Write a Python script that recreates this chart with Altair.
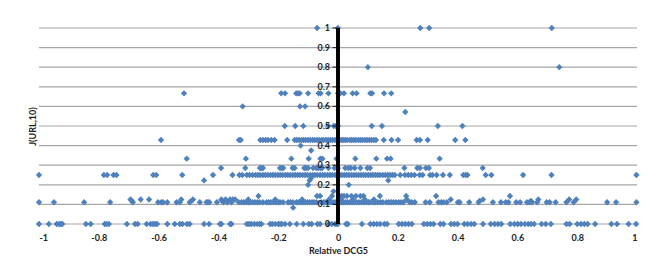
import altair as alt
import pandas as pd

# x values (Relative DCG5) for each J(URL,10) level
x_y100 = [-0.07, 0.0, 0.275, 0.305, 0.715]
x_y080 = [0.10, 0.74]
x_y067 = [-0.515, -0.19, -0.177, -0.14, -0.134, -0.128, -0.10, -0.065, -0.058, -0.032,
          0.0, 0.008, 0.02, 0.049, 0.062, 0.108, 0.114, 0.154, 0.178]
x_y060 = [-0.319, -0.127, -0.11]
x_y057 = [0.225]
x_y050 = [-0.178, -0.143, -0.116, -0.032, -0.014, -0.007, 0.0, 0.113, 0.147, 0.334, 0.416]
x_y043 = [-0.592, -0.331, -0.325, -0.26, -0.251, -0.242, -0.234, -0.223, -0.212, -0.17,
          -0.145, -0.138, -0.13, -0.122, -0.115, -0.108, -0.1, -0.093, -0.085, -0.078,
          -0.07, -0.063, -0.055, -0.048, -0.04, -0.033, -0.025, -0.018, -0.01, -0.004,
          0.0, 0.005, 0.011, 0.017, 0.024, 0.031, 0.04, 0.046, 0.053, 0.06, 0.068, 0.075,
          0.082, 0.09, 0.097, 0.105, 0.112, 0.12, 0.127, 0.153, 0.179, 0.201, 0.263, 0.274,
          0.3, 0.392, 0.426]
x_y040 = [-0.125]
x_y038 = [-0.09]
x_y033 = [-0.506, -0.308, -0.156, -0.098, -0.059, -0.052, -0.005, 0.058, 0.128, 0.164,
          0.176, 0.34]
x_y029 = [-0.391, -0.31, -0.261, -0.256, -0.251, -0.194, -0.188, -0.183, -0.152, -0.145,
          -0.113, -0.107, -0.1, -0.083, -0.072, -0.066, -0.059, -0.053, -0.032, -0.012,
          0.0, 0.024, 0.035, 0.043, 0.056, 0.075, 0.098, 0.107, 0.222, 0.265, 0.274,
          0.294, 0.304, 0.484]
x_y025 = [-1.0, -0.783, -0.772, -0.751, -0.741, -0.618, -0.608, -0.521, -0.418, -0.353,
          -0.33, -0.32, -0.305, -0.296, -0.286, -0.276, -0.268, -0.26, -0.251, -0.243,
          -0.235, -0.226, -0.218, -0.21, -0.201, -0.193, -0.185, -0.176, -0.168, -0.16,
          -0.151, -0.143, -0.135, -0.127, -0.118, -0.11, -0.102, -0.093, -0.085, -0.077,
          -0.069, -0.06, -0.052, -0.044, -0.035, -0.027, -0.019, -0.01, -0.003, 0.0,
          0.006, 0.013, 0.021, 0.029, 0.037, 0.045, 0.053, 0.061, 0.069, 0.077, 0.085,
          0.093, 0.101, 0.109, 0.117, 0.125, 0.133, 0.141, 0.15, 0.158, 0.166, 0.174,
          0.182, 0.19, 0.208, 0.224, 0.235, 0.245, 0.256, 0.273, 0.283, 0.308, 0.316,
          0.33, 0.351, 0.374, 0.419, 0.427, 0.433, 0.494, 0.513, 0.619, 0.714, 0.998]
x_y024 = [-0.09]
x_y022 = [-0.448, -0.095, 0.168]
x_y020 = [-0.1, 0.036]
x_y017 = [-0.015]
x_y014 = [-0.266, -0.07, -0.06, -0.02, 0.005, 0.012, 0.02, 0.03, 0.045, 0.06, 0.075,
          0.085, 0.14, 0.228, 0.328, 0.575]
x_y0125 = [-0.694, -0.66, -0.632, -0.524, -0.485, -0.39, -0.376, -0.361, -0.352, -0.344,
           -0.3, -0.21, -0.12, -0.03, 0.01, 0.05, 0.09, 0.12, 0.23, 0.377, 0.485, 0.67,
           0.773, 0.797]
x_y0118 = [-0.69, -0.49, -0.388, 0.474, 0.645]
x_y0111 = [-1.0, -0.95, -0.849, -0.762, -0.686, -0.602, -0.591, -0.585, -0.571, -0.54,
           -0.529, -0.496, -0.462, -0.44, -0.435, -0.43, -0.405, -0.383, -0.37, -0.356,
           -0.332, -0.323, -0.315, -0.307, -0.3, -0.295, -0.286, -0.278, -0.27, -0.262,
           -0.251, -0.239, -0.232, -0.224, -0.216, -0.208, -0.2, -0.194, -0.184, -0.167,
           -0.159, -0.151, -0.139, -0.132, -0.124, -0.117, -0.11, -0.102, -0.095, -0.087,
           -0.08, -0.072, -0.055, -0.047, -0.04, -0.033, -0.025, -0.017, -0.01, -0.004,
           0.0, 0.006, 0.012, 0.018, 0.025, 0.032, 0.04, 0.047, 0.054, 0.062, 0.07, 0.078,
           0.086, 0.094, 0.102, 0.107, 0.117, 0.124, 0.133, 0.142, 0.15, 0.162, 0.17,
           0.178, 0.186, 0.194, 0.203, 0.211, 0.219, 0.24, 0.247, 0.257, 0.293, 0.307,
           0.336, 0.345, 0.353, 0.364, 0.401, 0.407, 0.439, 0.47, 0.518, 0.545, 0.561,
           0.57, 0.596, 0.609, 0.632, 0.64, 0.649, 0.666, 0.698, 0.708, 0.728, 0.764,
           0.788, 0.9, 0.93, 0.998]
x_y008 = [-0.15]
x_y000 = [-1.0, -0.967, -0.941, -0.933, -0.927, -0.922, -0.843, -0.827, -0.78, -0.774,
          -0.766, -0.706, -0.679, -0.67, -0.64, -0.627, -0.619, -0.612, -0.605, -0.571,
          -0.546, -0.529, -0.52, -0.505, -0.496, -0.448, -0.431, -0.395, -0.39, -0.361,
          -0.356, -0.305, -0.297, -0.29, -0.28, -0.27, -0.262, -0.256, -0.227, -0.22,
          -0.21, -0.2, -0.194, -0.188, -0.177, -0.161, -0.138, -0.116, -0.097, -0.088,
          -0.069, -0.06, -0.032, -0.021, -0.01, -0.004, 0.0, 0.027, 0.033, 0.08, 0.108,
          0.119, 0.13, 0.141, 0.155, 0.164, 0.203, 0.214, 0.225, 0.236, 0.247, 0.287,
          0.298, 0.309, 0.32, 0.342, 0.353, 0.378, 0.389, 0.4, 0.422, 0.433, 0.445, 0.456,
          0.485, 0.511, 0.524, 0.535, 0.546, 0.576, 0.59, 0.601, 0.612, 0.625, 0.636,
          0.645, 0.656, 0.681, 0.695, 0.712, 0.764, 0.775, 0.8, 0.813, 0.824, 0.835, 0.86,
          0.914, 0.933, 0.972, 0.997]

levels = [
    (1.0, x_y100), (0.8, x_y080), (2 / 3, x_y067), (0.6, x_y060), (4 / 7, x_y057),
    (0.5, x_y050), (3 / 7, x_y043), (0.4, x_y040), (0.375, x_y038), (1 / 3, x_y033),
    (2 / 7, x_y029), (0.25, x_y025), (0.235, x_y024), (2 / 9, x_y022), (0.2, x_y020),
    (1 / 6, x_y017), (1 / 7, x_y014), (0.125, x_y0125), (0.118, x_y0118),
    (1 / 9, x_y0111), (1 / 12, x_y008), (0.0, x_y000),
]

y_tick_values = [0, 0.1, 0.2, 0.3, 0.4, 0.5, 0.6, 0.7, 0.8, 0.9, 1]
y_tick_labels = ["0", "0.1", "0.2", "0.3", "0.4", "0.5", "0.6", "0.7", "0.8", "0.9", "1"]
x_tick_values = [-1, -0.8, -0.6, -0.4, -0.2, 0, 0.2, 0.4, 0.6, 0.8, 1]

rows = []
for yv, xs in levels:
    for xv in xs:
        rows.append({"x": xv, "y": yv})
df = pd.DataFrame(rows)
ticks_df = pd.DataFrame({"y": y_tick_values, "label": y_tick_labels})

FONT = "Lato"
INK = "#222222"
xscale = alt.Scale(domain=[-1, 1], nice=False, zero=False)
yscale = alt.Scale(domain=[0, 1], nice=False)

y_axis = alt.Axis(grid=False, labels=False, ticks=False, domain=False,
                  titlePadding=2, titleFontSize=9, titleFont=FONT,
                  titleFontWeight="bold", titleColor=INK)
Y_TITLE = "J(URL,10)"

# gridlines drawn as rules from the tick table
grid = alt.Chart(ticks_df).mark_rule(color="#a6a6a6", strokeWidth=1.2).encode(
    y=alt.Y("y:Q", scale=yscale, title=Y_TITLE, axis=y_axis),
    x=alt.datum(-1, scale=xscale),
    x2=alt.datum(1),
)

points = alt.Chart(df).mark_point(
    shape="diamond", filled=True, size=40, color="#4F81BD", opacity=1
).encode(
    x=alt.X("x:Q", scale=xscale, title="Relative DCG5",
            axis=alt.Axis(values=x_tick_values, grid=False, domain=False, ticks=False,
                          labelExpr="replace(format(datum.value, '.1~f'), '\u2212', '-')",
                          labelPadding=9, titlePadding=4, labelFontSize=9,
                          titleFontSize=9, labelFont=FONT, titleFont=FONT,
                          labelFontWeight="bold", titleFontWeight="bold",
                          labelColor=INK, titleColor=INK)),
    y=alt.Y("y:Q", scale=yscale, title=Y_TITLE, axis=y_axis),
)

zero_line = alt.Chart(ticks_df).mark_rule(color="black", strokeWidth=2.5).encode(
    x=alt.datum(0, scale=xscale),
    y=alt.value(0),
    y2=alt.value(196),
)

tick_marks = alt.Chart(ticks_df).mark_tick(
    orient="horizontal", size=5, thickness=1.2, color="black", xOffset=-3
).encode(
    x=alt.datum(0, scale=xscale),
    y=alt.Y("y:Q", scale=yscale, title=Y_TITLE, axis=y_axis),
)

tick_labels = alt.Chart(ticks_df).mark_text(
    align="right", baseline="middle", dx=-8, fontSize=9, font=FONT,
    fontWeight="bold", color=INK
).encode(
    x=alt.datum(0, scale=xscale),
    y=alt.Y("y:Q", scale=yscale, title=Y_TITLE, axis=y_axis),
    text="label:N",
)

chart = alt.layer(grid, points, zero_line, tick_marks, tick_labels).properties(
    width=598, height=196,
    autosize=alt.AutoSizeParams(type="none"),
    padding={"left": 31, "top": 20, "right": 10, "bottom": 36},
).configure_view(stroke=None)

chart.save("out.html", embed_options={"renderer": "svg", "actions": False})
